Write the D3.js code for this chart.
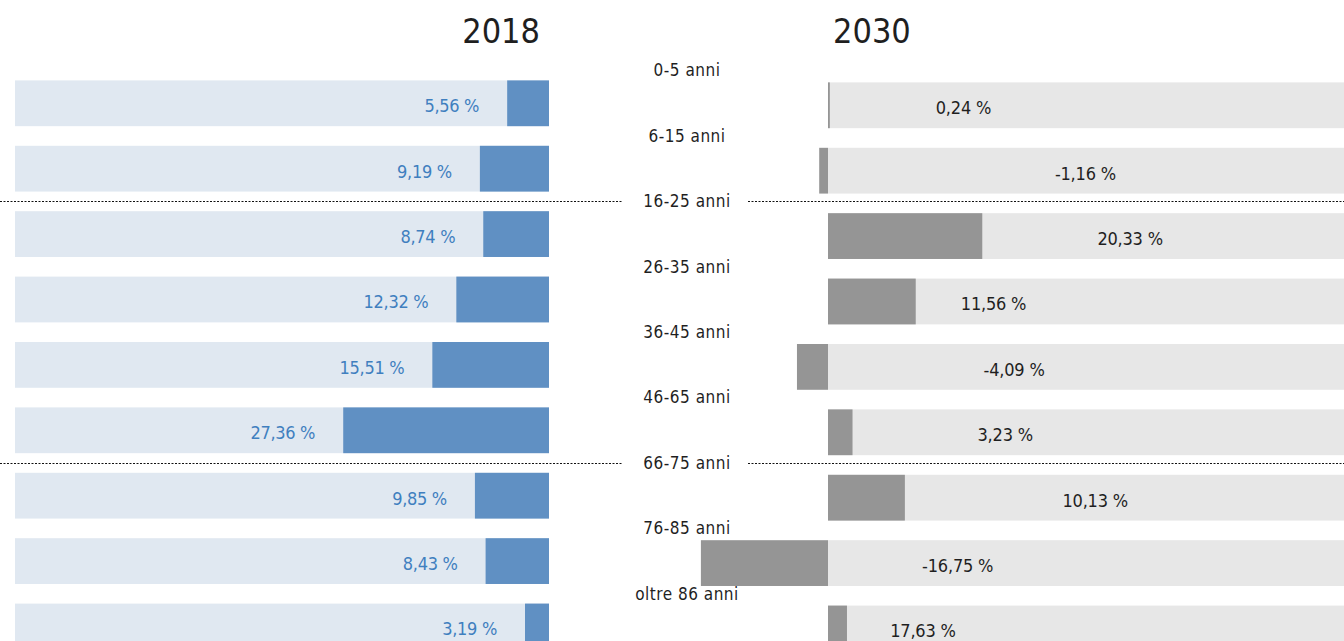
<!DOCTYPE html>
<html>
<head>
<meta charset="utf-8">
<script src="https://cdn.jsdelivr.net/npm/d3@7"></script>
<style>
  html, body { margin: 0; padding: 0; background: #ffffff; }
  svg { display: block; }
  text { font-family: "DejaVu Sans Condensed", "DejaVu Sans", sans-serif; }
</style>
</head>
<body>
<svg id="chart" width="1344" height="641"></svg>
<script>
// ---- data ----
const categories = ["0-5 anni", "6-15 anni", "16-25 anni", "26-35 anni", "36-45 anni",
                    "46-65 anni", "66-75 anni", "76-85 anni", "oltre 86 anni"];
const titles = ["2018", "2030"];
// 2018 shares (%)
const values2018 = [5.56, 9.19, 8.74, 12.32, 15.51, 27.36, 9.85, 8.43, 3.19];
const labels2018 = ["5,56 %", "9,19 %", "8,74 %", "12,32 %", "15,51 %", "27,36 %", "9,85 %", "8,43 %", "3,19 %"];
// 2030 change (%) — bar lengths as drawn in the picture
const values2030 = [0.24, -1.16, 20.33, 11.56, -4.09, 3.23, 10.13, -16.75, 2.5];
const labels2030 = ["0,24 %", "-1,16 %", "20,33 %", "11,56 %", "-4,09 %", "3,23 %", "10,13 %", "-16,75 %", "17,63 %"];
// where each 2030 label sits, in % units along the 2030 axis
const labelAt2030 = [14.2, 29.9, 35.5, 17.5, 20.5, 19.7, 30.9, 12.4, 8.2];
// categories that get a dotted separator
const separators = ["16-25 anni", "66-75 anni"];

// ---- layout ----
const W = 1344, H = 641;
const svg = d3.select("#chart");

const step = 65.4;
const y = d3.scaleBand()
  .domain(categories)
  .range([80.4 - step * 0.15, 80.4 - step * 0.15 + step * categories.length])
  .paddingInner(0.3)
  .paddingOuter(0.15);

const xL = d3.scaleLinear().domain([0, 71]).range([549, 15]);
const xR = d3.scaleLinear().domain([0, 68]).range([828, 1344]);

const blueBg = "#e0e8f1", blueBar = "#6090c3", blueText = "#3f7fbf";
const greyBg = "#e7e7e7", greyBar = "#959595", darkText = "#1f1f1f";

// backgrounds
svg.append("g").selectAll("rect").data(categories).join("rect")
  .attr("x", xL(71)).attr("width", xL(0) - xL(71))
  .attr("y", d => y(d)).attr("height", y.bandwidth())
  .attr("fill", blueBg);
svg.append("g").selectAll("rect").data(categories).join("rect")
  .attr("x", xR(0)).attr("width", xR(68) - xR(0))
  .attr("y", d => y(d) + 2).attr("height", y.bandwidth())
  .attr("fill", greyBg);

// 2018 bars
svg.append("g").selectAll("rect").data(values2018).join("rect")
  .attr("x", d => xL(d)).attr("width", d => xL(0) - xL(d))
  .attr("y", (d, i) => y(categories[i])).attr("height", y.bandwidth())
  .attr("fill", blueBar);

// 2030 bars
svg.append("g").selectAll("rect").data(values2030).join("rect")
  .attr("x", d => Math.min(xR(0), xR(d))).attr("width", d => Math.max(1.2, Math.abs(xR(d) - xR(0))))
  .attr("y", (d, i) => y(categories[i]) + 2).attr("height", y.bandwidth())
  .attr("fill", greyBar);

// 2018 value labels
svg.append("g").selectAll("text").data(values2018).join("text")
  .attr("x", d => xL(d) - 28)
  .attr("y", (d, i) => y(categories[i]) + y.bandwidth() / 2 + 9)
  .attr("text-anchor", "end")
  .attr("font-size", 18)
  .attr("letter-spacing", "-0.3")
  .attr("fill", blueText)
  .text((d, i) => labels2018[i]);

// 2030 value labels
svg.append("g").selectAll("text").data(labelAt2030).join("text")
  .attr("x", d => xR(d))
  .attr("y", (d, i) => y(categories[i]) + 2 + y.bandwidth() / 2 + 9)
  .attr("text-anchor", "start")
  .attr("font-size", 18)
  .attr("letter-spacing", "-0.2")
  .attr("fill", darkText)
  .text((d, i) => labels2030[i]);

// dotted separators
const sepG = svg.append("g");
separators.forEach(c => {
  const yy = Math.round(y(c) - 10) + 0.5;
  [[0, 622], [748, W]].forEach(([a, b]) => {
    sepG.append("line")
      .attr("x1", a).attr("x2", b).attr("y1", yy).attr("y2", yy)
      .attr("stroke", "#111").attr("stroke-width", 1)
      .attr("stroke-dasharray", "2,1.5");
  });
});

// category labels
svg.append("g").selectAll("text").data(categories).join("text")
  .attr("x", 687)
  .attr("y", d => y(d) - 10 + 6)
  .attr("text-anchor", "middle")
  .attr("font-size", 17)
  .attr("letter-spacing", "0.5")
  .attr("fill", darkText)
  .text(d => d);

// titles
svg.append("text").attr("x", 540).attr("y", 43)
  .attr("text-anchor", "end").attr("font-size", 34).attr("fill", darkText)
  .text(titles[0]);
svg.append("text").attr("x", 833).attr("y", 43)
  .attr("text-anchor", "start").attr("font-size", 34).attr("fill", darkText)
  .text(titles[1]);
</script>
</body>
</html>
